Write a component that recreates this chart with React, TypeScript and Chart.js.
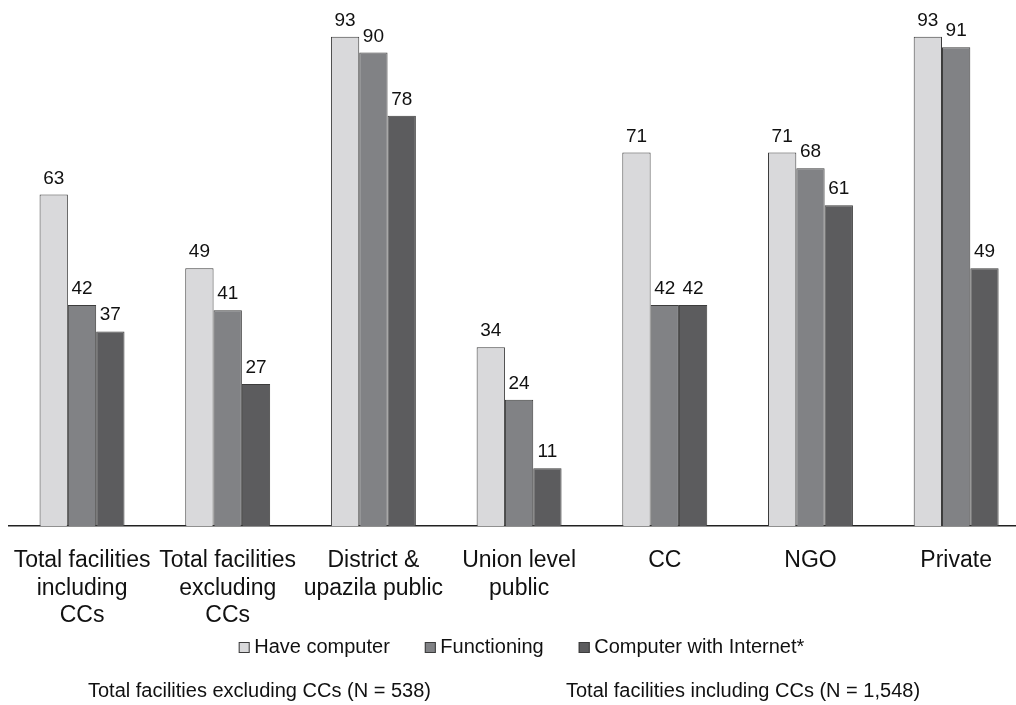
import React, { useEffect, useRef } from "react";
import { Chart, registerables } from "chart.js";

Chart.register(...registerables);

const categories: (string | string[])[] = [
  ["Total facilities", "including", "CCs"],
  ["Total facilities", "excluding", "CCs"],
  ["District &", "upazila public"],
  ["Union level", "public"],
  "CC",
  "NGO",
  "Private",
];

const seriesNames = ["Have computer", "Functioning", "Computer with Internet*"];
const haveComputer = [63, 49, 93, 34, 71, 71, 93];
const functioning = [42, 41, 90, 24, 42, 68, 91];
const withInternet = [37, 27, 78, 11, 42, 61, 49];
const seriesColors = ["#d9d9db", "#818285", "#5c5c5e"];

const footnotes = [
  "Total facilities excluding CCs (N = 538)",
  "Total facilities including CCs (N = 1,548)",
];

const FONT = '"Liberation Sans", Arial, Helvetica, sans-serif';
const TEXT = "#111111";

const valueLabels = {
  id: "valueLabels",
  afterDatasetsDraw(chart: any) {
    const ctx = chart.ctx;
    ctx.save();
    ctx.font = `19px ${FONT}`;
    ctx.fillStyle = TEXT;
    ctx.textAlign = "center";
    ctx.textBaseline = "alphabetic";
    chart.data.datasets.forEach((ds: any, i: number) => {
      const meta = chart.getDatasetMeta(i);
      meta.data.forEach((bar: any, j: number) => {
        ctx.fillText(String(ds.data[j]), bar.x, bar.y - 11);
      });
    });
    ctx.restore();
  },
};

const customLegend = {
  id: "customLegend",
  afterDraw(chart: any) {
    const ctx = chart.ctx;
    ctx.save();
    ctx.font = `20px ${FONT}`;
    const box = 11;
    const gap = 4.5;
    const spacing = 35;
    const items = chart.data.datasets.map((ds: any) => ({
      label: ds.label,
      color: ds.backgroundColor,
      w: box + gap + ctx.measureText(ds.label).width,
    }));
    const total =
      items.reduce((s: number, it: any) => s + it.w, 0) + spacing * (items.length - 1);
    let x = 521.5 - total / 2;
    const cy = 647.5;
    items.forEach((it: any) => {
      ctx.fillStyle = it.color;
      ctx.fillRect(x, cy - box / 2, box, box);
      ctx.strokeStyle = "#3c3c3c";
      ctx.lineWidth = 1;
      ctx.strokeRect(x + 0.5, cy - box / 2 + 0.5, box - 1, box - 1);
      ctx.fillStyle = TEXT;
      ctx.textAlign = "left";
      ctx.textBaseline = "middle";
      ctx.fillText(it.label, x + box + gap, cy);
      x += it.w + spacing;
    });
    ctx.font = `20px ${FONT}`;
    ctx.textBaseline = "alphabetic";
    ctx.textAlign = "left";
    ctx.fillStyle = TEXT;
    ctx.fillText(footnotes[0], 88, 697);
    ctx.fillText(footnotes[1], 566, 697);
    ctx.restore();
  },
};

export default function App() {
  const canvasRef = useRef<HTMLCanvasElement | null>(null);

  useEffect(() => {
    if (!canvasRef.current) return;
    const values = [haveComputer, functioning, withInternet];
    const chart = new Chart(canvasRef.current, {
      type: "bar",
      data: {
        labels: categories,
        datasets: seriesNames.map((name, i) => ({
          label: name,
          data: values[i],
          backgroundColor: seriesColors[i],
          borderColor: "#3c3c3c",
          borderWidth: 1,
          barPercentage: 1,
          categoryPercentage: 0.583,
        })),
      },
      options: {
        responsive: false,
        devicePixelRatio: 1,
        animation: false,
        layout: { padding: { left: 9, right: 11, top: 0, bottom: 0 } },
        plugins: {
          legend: { display: false },
          tooltip: { enabled: false },
          title: { display: false },
        },
        scales: {
          x: {
            grid: { display: false },
            border: { display: true, color: "#222222", width: 1.5 },
            ticks: {
              autoSkip: false,
              maxRotation: 0,
              minRotation: 0,
              padding: 13,
              color: TEXT,
              font: { family: FONT, size: 23, lineHeight: 1.2 },
            },
            afterFit: (scale: any) => {
              scale.height = 705 - 526;
            },
          },
          y: {
            display: false,
            min: 0,
            max: 100,
          },
        },
      },
      plugins: [valueLabels, customLegend],
    });
    return () => chart.destroy();
  }, []);

  return (
    <div
      style={{
        position: "absolute",
        left: 0,
        top: 0,
        width: 1016,
        height: 705,
        overflow: "hidden",
        background: "#ffffff",
      }}
    >
      <canvas ref={canvasRef} width={1040} height={705} style={{ display: "block" }} />
    </div>
  );
}
